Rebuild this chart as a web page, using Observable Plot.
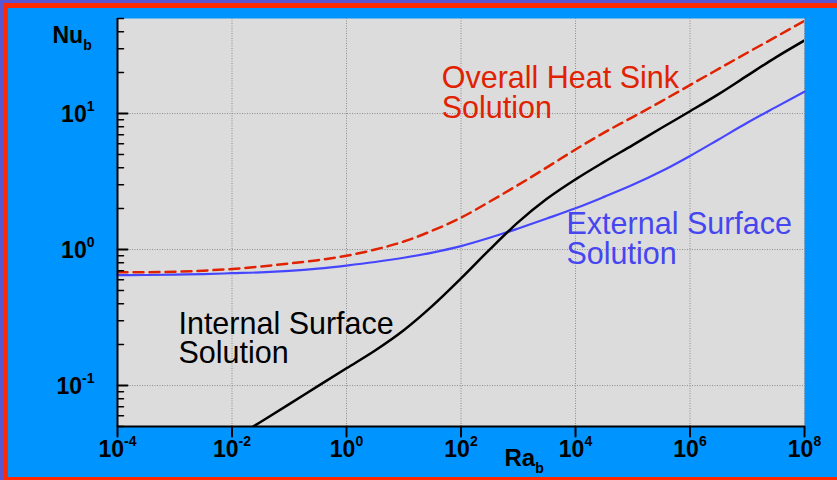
<!DOCTYPE html>
<html><head><meta charset="utf-8">
<script src="https://cdn.jsdelivr.net/npm/d3@7"></script>
<script src="https://cdn.jsdelivr.net/npm/@observablehq/plot@0.6"></script>
<style>
html,body{margin:0;padding:0;width:837px;height:480px;overflow:hidden;background:#5a56d2;}
#frame{position:absolute;left:3px;top:3px;width:900px;height:469px;background:#0094ff;border:5px solid #ff2a00;border-right:none;}
#chart{position:absolute;left:0;top:0;}
</style></head><body><div id="frame"></div><div id="chart"></div>
<script>
// Rayleigh number (Ra_b) sample points (half decades)
const raValues = [1e-4, 3.16e-4, 1e-3, 3.16e-3, 1e-2, 3.16e-2, 0.1, 0.316, 1, 3.16, 10, 31.6, 100, 316, 1e3, 3.16e3, 1e4, 3.16e4, 1e5, 3.16e5, 1e6, 3.16e6, 1e7, 3.16e7, 1e8];
// External surface solution (blue)
const externalNu = [0.648, 0.65, 0.655, 0.66, 0.67, 0.68, 0.698, 0.725, 0.763, 0.81, 0.87, 0.95, 1.06, 1.22, 1.43, 1.69, 2.01, 2.44, 2.99, 3.76, 4.88, 6.45, 8.55, 11.15, 14.5];
// Overall heat sink solution (red dashed)
const overallNu = [0.68, 0.681, 0.687, 0.70, 0.72, 0.75, 0.79, 0.836, 0.90, 1.0, 1.145, 1.378, 1.715, 2.25, 2.99, 4.02, 5.44, 7.24, 9.42, 12.3, 16.2, 21.3, 28.0, 36.6, 48.1];
// Internal surface solution (black)
const internalRa = [1e-2, 3.16e-2, 0.1, 0.316, 1, 3.16, 10, 31.6, 100, 316, 1e3, 3.16e3, 1e4, 3.16e4, 1e5, 3.16e5, 1e6, 3.16e6, 1e7, 3.16e7, 1e8];
const internalNu = [0.040, 0.054, 0.073, 0.099, 0.134, 0.181, 0.255, 0.385, 0.613, 1.0, 1.59, 2.36, 3.28, 4.41, 5.86, 7.83, 10.4, 13.9, 19.0, 25.9, 34.5];

const xTickExp = [-4, -2, 0, 2, 4, 6, 8];
const xTicks = [1e-4, 1e-2, 1, 1e2, 1e4, 1e6, 1e8];
const yTickExp = [-1, 0, 1];
const yTicks = [0.1, 1, 10];
const yMinor = [0.05, 0.06, 0.07, 0.08, 0.09, 0.2, 0.3, 0.4, 0.5, 0.6, 0.7, 0.8, 0.9, 2, 3, 4, 5, 6, 7, 8, 9, 20, 30, 40, 50];

const annotations = [
  {label: "Overall Heat Sink\nSolution", ra: 46, nu: 9.3, color: "#e02200"},
  {label: "External Surface\nSolution", ra: 6970, nu: 0.786, color: "#4646f0"},
  {label: "Internal Surface\nSolution", ra: 1.16e-3, nu: 0.1455, color: "#000000"}
];
const xTitle = "Ra_b";
const yTitle = "Nu_b";

const rows = (ra, nu) => ra.map((r, i) => ({ra: r, nu: nu[i]}));
const F = "'Liberation Sans', Arial, Helvetica, sans-serif";
const tickShape = {draw(ctx, l) { ctx.moveTo(0, 0); ctx.lineTo(0, -l); }};

const svg = Plot.plot({
  width: 837, height: 480,
  marginLeft: 117, marginRight: 33, marginTop: 18, marginBottom: 54,
  style: {background: "transparent", fontFamily: F, overflow: "visible"},
  x: {type: "log", domain: [1e-4, 1e8], axis: null},
  y: {type: "log", domain: [0.05, 50], axis: null},
  marks: [
    Plot.frame({fill: "#dcdcdc", stroke: null}),
    Plot.gridX(xTicks.slice(1), {stroke: "#8c8c8c", strokeOpacity: 1, strokeDasharray: "1,1.5"}),
    Plot.gridY(yTicks, {stroke: "#8c8c8c", strokeOpacity: 1, strokeDasharray: "1,1.5"}),
    Plot.line(rows(raValues, externalNu), {x: "ra", y: "nu", stroke: "#4646ff", strokeWidth: 2.2, curve: "monotone-x"}),
    Plot.line(rows(internalRa, internalNu), {x: "ra", y: "nu", stroke: "#000", strokeWidth: 2.5, curve: "monotone-x", clip: true}),
    Plot.line(rows(raValues, overallNu), {x: "ra", y: "nu", stroke: "#e02200", strokeWidth: 2.5, strokeDasharray: "10,6", curve: "monotone-x", clip: true}),
    Plot.ruleX([1e-4], {stroke: "#000", strokeWidth: 2}),
    Plot.ruleY([0.05], {stroke: "#000", strokeWidth: 2}),
    Plot.vector(xTicks, {x: d => d, frameAnchor: "bottom", anchor: "start", length: 10, rotate: 180, shape: tickShape, stroke: "#000", strokeWidth: 2}),
    Plot.vector(yTicks, {y: d => d, frameAnchor: "left", anchor: "start", length: 10, rotate: 90, shape: tickShape, stroke: "#000", strokeWidth: 2}),
    Plot.vector(yMinor, {y: d => d, frameAnchor: "left", anchor: "start", length: 6, rotate: 90, shape: tickShape, stroke: "#000", strokeWidth: 1.5}),
    Plot.text(xTicks, {x: d => d, text: (d, i) => "10^" + xTickExp[i], frameAnchor: "bottom", lineAnchor: "bottom", dy: 30, textAnchor: "middle", fontSize: 23, fontWeight: "bold", fill: "#000"}),
    Plot.text(yTicks, {y: d => d, text: (d, i) => "10^" + yTickExp[i], frameAnchor: "left", lineAnchor: "bottom", dx: -23, dy: 8, textAnchor: "end", fontSize: 23, fontWeight: "bold", fill: "#000"}),
    Plot.text([yTitle], {text: d => d, frameAnchor: "top-left", dx: -65, dy: 24, lineAnchor: "bottom", textAnchor: "start", fontSize: 23, fontWeight: "bold", fill: "#000"}),
    Plot.text([xTitle], {text: d => d, frameAnchor: "bottom-left", dx: 387, dy: 39, lineAnchor: "bottom", textAnchor: "start", fontSize: 24, fontWeight: "bold", fill: "#000"}),
    ...annotations.map(a => Plot.text([a], {x: "ra", y: "nu", text: "label", fill: a.color, textAnchor: "start", lineAnchor: "bottom", fontSize: 30.5, lineHeight: 0.965}))
  ]
});

// turn "10^-4" / "Ra_b" into real superscript / subscript text
d3.select(svg).selectAll("text").each(function () {
  if (this.querySelector("tspan")) return;
  const t = this.textContent;
  const m = t.match(/^([^\^_]+)([\^_])(.+)$/);
  if (!m) return;
  this.textContent = m[1];
  const ts = document.createElementNS("http://www.w3.org/2000/svg", "tspan");
  ts.textContent = m[3];
  ts.setAttribute("font-size", "14");
  ts.setAttribute("dy", m[2] === "^" ? "-10.5" : "7.5");
  this.appendChild(ts);
});

document.getElementById("chart").appendChild(svg);
</script></body></html>
